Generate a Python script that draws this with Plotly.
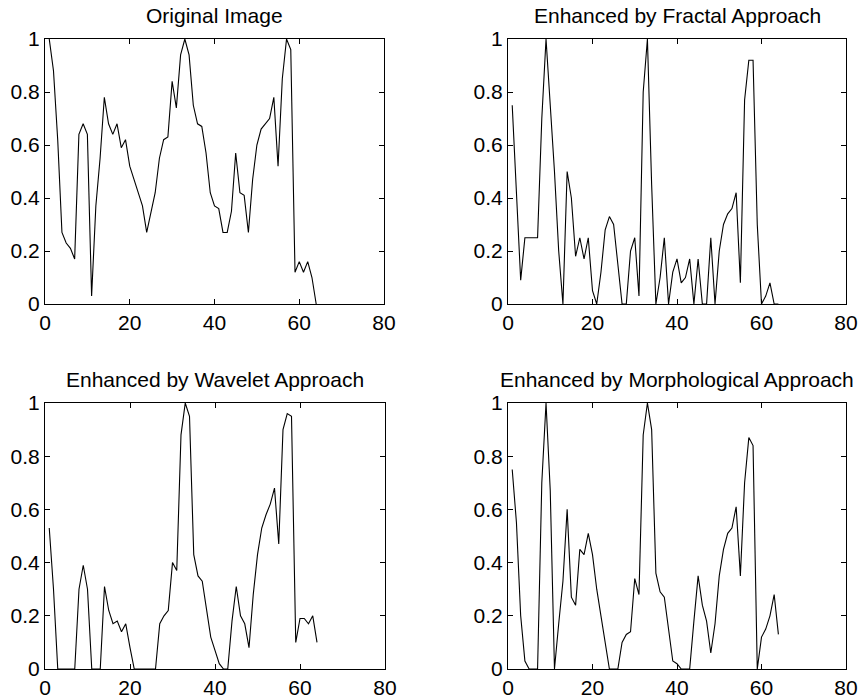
import plotly.graph_objects as go

x_index = list(range(1, 65))

original = [1.0, 0.88, 0.62, 0.27, 0.23, 0.21, 0.17, 0.64, 0.68, 0.64,
            0.03, 0.37, 0.55, 0.78, 0.68, 0.64, 0.68, 0.59, 0.62, 0.52,
            0.47, 0.42, 0.37, 0.27, 0.35, 0.42, 0.55, 0.62, 0.63, 0.84,
            0.74, 0.94, 1.0, 0.94, 0.75, 0.68, 0.67, 0.57, 0.42, 0.37,
            0.36, 0.27, 0.27, 0.35, 0.57, 0.42, 0.41, 0.27, 0.47, 0.6,
            0.66, 0.68, 0.7, 0.78, 0.52, 0.85, 1.0, 0.96, 0.12, 0.16,
            0.12, 0.16, 0.1, 0.0]

fractal = [0.75, 0.44, 0.09, 0.25, 0.25, 0.25, 0.25, 0.7, 1.0, 0.75,
           0.5, 0.2, 0.0, 0.5, 0.4, 0.18, 0.25, 0.17, 0.25, 0.05,
           0.0, 0.12, 0.28, 0.33, 0.3, 0.15, 0.0, 0.0, 0.2, 0.25,
           0.03, 0.8, 1.0, 0.45, 0.0, 0.1, 0.25, 0.0, 0.12, 0.17,
           0.08, 0.1, 0.17, 0.0, 0.17, 0.0, 0.0, 0.25, 0.0, 0.2,
           0.3, 0.34, 0.36, 0.42, 0.08, 0.77, 0.92, 0.92, 0.3, 0.0,
           0.03, 0.08, 0.0, 0.0]

wavelet = [0.53, 0.3, 0.0, 0.0, 0.0, 0.0, 0.0, 0.3, 0.39, 0.3,
           0.0, 0.0, 0.0, 0.31, 0.22, 0.17, 0.18, 0.14, 0.17, 0.08,
           0.0, 0.0, 0.0, 0.0, 0.0, 0.0, 0.17, 0.2, 0.22, 0.4,
           0.37, 0.88, 1.0, 0.95, 0.43, 0.35, 0.33, 0.22, 0.12, 0.07,
           0.02, 0.0, 0.0, 0.18, 0.31, 0.2, 0.17, 0.08, 0.28, 0.43,
           0.53, 0.58, 0.62, 0.68, 0.47, 0.9, 0.96, 0.95, 0.1, 0.19,
           0.19, 0.17, 0.2, 0.1]

morphological = [0.75, 0.55, 0.2, 0.03, 0.0, 0.0, 0.0, 0.7, 1.0, 0.67,
                 0.0, 0.17, 0.33, 0.6, 0.27, 0.24, 0.45, 0.43, 0.51, 0.43,
                 0.3, 0.2, 0.1, 0.0, 0.0, 0.0, 0.1, 0.13, 0.14, 0.34,
                 0.28, 0.88, 1.0, 0.9, 0.36, 0.29, 0.27, 0.15, 0.03, 0.02,
                 0.0, 0.0, 0.0, 0.18, 0.35, 0.24, 0.18, 0.06, 0.17, 0.35,
                 0.45, 0.51, 0.53, 0.61, 0.35, 0.7, 0.87, 0.84, 0.0, 0.12,
                 0.15, 0.2, 0.28, 0.13]

titles = ["Original Image", "Enhanced by Fractal Approach",
          "Enhanced by Wavelet Approach", "Enhanced by Morphological Approach"]
x_ticks = [0, 20, 40, 60, 80]
y_ticks = [0, 0.2, 0.4, 0.6, 0.8, 1]
y_tick_text = ["0", "0.2", "0.4", "0.6", "0.8", "1"]

W, H = 861, 700
FONT = "Liberation Sans"
FS = 21

# panel pixel boxes: (left, right, top, bottom)
boxes = [(45, 384, 39, 304), (508, 846, 39, 304),
         (45, 385, 403, 669), (508, 846, 403, 669)]
series = [original, fractal, wavelet, morphological]

fig = go.Figure()
layout = dict(
    width=W, height=H,
    margin=dict(l=0, r=0, t=0, b=0, pad=0, autoexpand=False),
    paper_bgcolor="white", plot_bgcolor="white",
    showlegend=False,
    font=dict(family=FONT, size=FS, color="black"),
    annotations=[],
)

for i, (box, ys, title) in enumerate(zip(boxes, series, titles)):
    l, r, t, b = box
    n = "" if i == 0 else str(i + 1)
    fig.add_trace(go.Scatter(
        x=x_index, y=ys, mode="lines",
        line=dict(color="black", width=1.1),
        xaxis="x" + n, yaxis="y" + n, hoverinfo="skip",
    ))
    axis_common = dict(
        showgrid=False, zeroline=False, automargin=False,
        showline=True, linecolor="black", linewidth=1,
        mirror="ticks", ticks="inside", ticklen=5, tickcolor="black",
        tickfont=dict(family=FONT, size=FS, color="black"),
    )
    layout["xaxis" + n] = dict(
        axis_common, domain=[l / W, r / W], range=[0, 80],
        tickvals=x_ticks, ticktext=[str(v) for v in x_ticks],
        anchor="y" + n,
    )
    layout["yaxis" + n] = dict(
        axis_common, domain=[1 - b / H, 1 - t / H], range=[0, 1],
        tickvals=y_ticks, ticktext=y_tick_text,
        anchor="x" + n,
    )
    layout["annotations"].append(dict(
        text=title, xref="paper", yref="paper",
        x=(l + r) / 2 / W, y=1 - (t - 24) / H,
        xanchor="center", yanchor="middle", showarrow=False,
        font=dict(family=FONT, size=FS, color="black"),
    ))

fig.update_layout(**layout)
fig.write_html(
    "out.html",
    config={"displayModeBar": False},
    post_script="document.body.style.margin='0';document.body.style.overflow='hidden';",
)
